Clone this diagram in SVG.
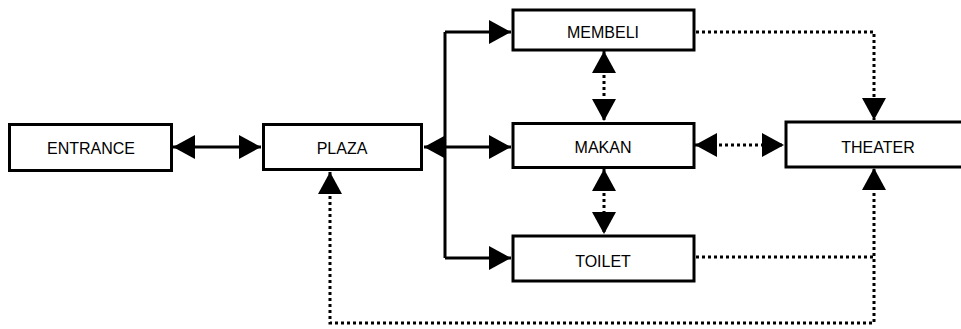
<svg xmlns="http://www.w3.org/2000/svg" width="961" height="329" viewBox="0 0 961 329">
<style>
.box{fill:#fff;stroke:#000;stroke-width:3}
.lbl{font-family:"Liberation Sans",Arial,sans-serif;font-size:16px;fill:#000;text-anchor:middle}
.solid{fill:none;stroke:#000;stroke-width:3}
.dot{fill:none;stroke:#000;stroke-width:3;stroke-dasharray:3 3}
</style>
<defs>
<marker id="ah" viewBox="0 0 22 24" refX="22" refY="12" markerWidth="22" markerHeight="24" markerUnits="userSpaceOnUse" orient="auto-start-reverse">
<path d="M0,0 L22,12 L0,24 z" fill="#000"/>
</marker>
</defs>
<rect width="961" height="329" fill="#fff"/>
<g id="connectors">
<line class="solid" x1="173" y1="147" x2="261" y2="147" marker-start="url(#ah)" marker-end="url(#ah)"/>
<path class="solid" d="M445,32 V258"/>
<path class="solid" d="M445,32 H511" marker-end="url(#ah)"/>
<line class="solid" x1="424" y1="147" x2="511" y2="147" marker-start="url(#ah)" marker-end="url(#ah)"/>
<path class="solid" d="M445,258 H511" marker-end="url(#ah)"/>
<line class="dot" x1="604" y1="51" x2="604" y2="121" marker-start="url(#ah)" marker-end="url(#ah)"/>
<line class="dot" x1="604" y1="169" x2="604" y2="234" marker-start="url(#ah)" marker-end="url(#ah)"/>
<line class="dot" x1="695" y1="145" x2="784" y2="145" marker-start="url(#ah)" marker-end="url(#ah)"/>
<path class="dot" d="M696,32 H874 V120" marker-end="url(#ah)"/>
<path class="dot" d="M696,257 H874"/>
<path class="dot" d="M330,172 V323 H874 V168" marker-start="url(#ah)" marker-end="url(#ah)"/>
</g>
<g id="entrance"><rect class="box" x="9.5" y="124.5" width="162" height="46"/><text class="lbl" x="91" y="154">ENTRANCE</text></g>
<g id="plaza"><rect class="box" x="263.5" y="124.5" width="158" height="45"/><text class="lbl" x="342" y="154">PLAZA</text></g>
<g id="membeli"><rect class="box" x="513" y="10" width="181" height="40"/><text class="lbl" x="603" y="38">MEMBELI</text></g>
<g id="makan"><rect class="box" x="513" y="123.5" width="181" height="44"/><text class="lbl" x="603" y="153">MAKAN</text></g>
<g id="toilet"><rect class="box" x="513" y="236" width="181" height="45"/><text class="lbl" x="603" y="267">TOILET</text></g>
<g id="theater"><rect class="box" x="786" y="122" width="200" height="45"/><text class="lbl" x="878" y="153">THEATER</text></g>
</svg>
